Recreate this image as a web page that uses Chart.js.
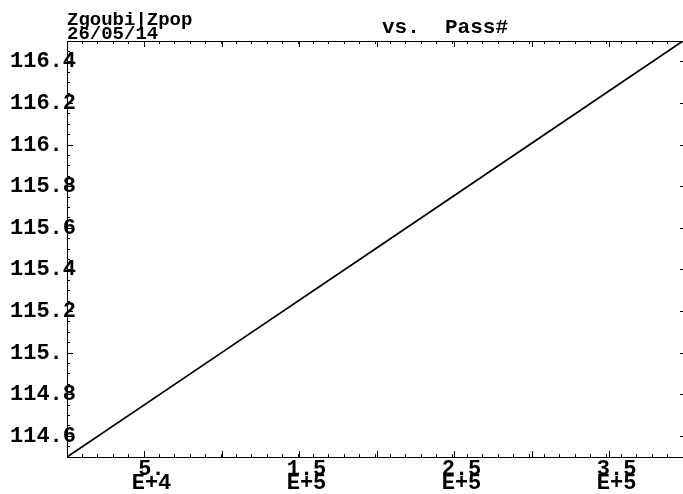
<!DOCTYPE html>
<html>
<head>
<meta charset="utf-8">
<script src="https://cdn.jsdelivr.net/npm/chart.js@4/dist/chart.umd.min.js"></script>
<style>
  html, body { margin: 0; padding: 0; background: #fff; }
  #wrap { width: 683px; height: 494px; }
</style>
</head>
<body>
<div id="wrap"><canvas id="zpopChart"></canvas></div>
<script>
// Zpop vs. pass number
const passes = [1, 100000, 200000, 300000, 397400];
const zpop = [114.5, 115.003, 115.506, 116.01, 116.5];

// Axis ticks and their labels
const xMajorTicks = [50000, 100000, 150000, 200000, 250000, 300000, 350000];
const xLabelTicks = [50000, 150000, 250000, 350000];
const xTickLabels = [['5.', 'E+4'], ['1.5', 'E+5'], ['2.5', 'E+5'], ['3.5', 'E+5']];
const yMajorTicks = [114.6, 114.8, 115.0, 115.2, 115.4, 115.6, 115.8, 116.0, 116.2, 116.4];
const yTickLabels = ['114.6', '114.8', '115.', '115.2', '115.4', '115.6', '115.8', '116.', '116.2', '116.4'];

const MONO = "'Liberation Mono', 'DejaVu Sans Mono', monospace";
const Y_FONT = 22;

// Header lines drawn above the frame
const headerText = {
    id: 'headerText',
    afterDraw(chart) {
        const ctx = chart.ctx;
        ctx.save();
        ctx.fillStyle = '#000';
        ctx.textAlign = 'left';
        ctx.textBaseline = 'alphabetic';
        ctx.font = 'bold 19px ' + MONO;
        ctx.fillText('Zgoubi|Zpop', 67, 25);
        ctx.fillText('26/05/14', 67, 39);
        ctx.font = 'bold 21px ' + MONO;
        ctx.fillText('vs.  Pass#', 382, 33);
        ctx.restore();
    }
};

// Inward tick marks only, no grid on the plot area
function tickGrid(len) {
    return { drawOnChartArea: false, drawTicks: true, tickLength: -len, color: '#000', tickColor: '#000', tickWidth: 1 };
}
const border = { display: true, color: '#000', width: 1 };

const xMin = Math.min(...passes), xMax = Math.max(...passes);

const ctx = document.getElementById('zpopChart').getContext('2d');
new Chart(ctx, {
    type: 'line',
    data: {
        datasets: [{
            data: passes.map((p, i) => ({ x: p, y: zpop[i] })),
            borderColor: '#000',
            borderWidth: 1.8,
            pointRadius: 0,
            fill: false,
            tension: 0
        }]
    },
    options: {
        responsive: true,
        maintainAspectRatio: false,
        animation: false,
        layout: { padding: { top: 41, right: 0, left: 0, bottom: 0 } },
        plugins: { legend: { display: false }, tooltip: { enabled: false } },
        scales: {
            x: {
                type: 'linear', position: 'bottom', weight: 1,
                min: xMin, max: xMax,
                grid: tickGrid(6), border: border,
                afterBuildTicks: s => { s.ticks = xMajorTicks.map(v => ({ value: v })); },
                afterFit: s => { s.height = 37; },
                ticks: {
                    autoSkip: false, maxRotation: 0, padding: 12, labelOffset: 7, color: '#000',
                    font: { family: MONO, size: 22, weight: 'bold', lineHeight: 0.62 },
                    callback: v => {
                        const i = xLabelTicks.indexOf(v);
                        return i < 0 ? '' : xTickLabels[i];
                    }
                }
            },
            xMinor: {
                type: 'linear', position: 'bottom', weight: 0,
                min: xMin, max: xMax,
                grid: tickGrid(3), border: border,
                afterFit: s => { s.height = 0; },
                ticks: { display: false, stepSize: 10000 }
            },
            xTop: {
                type: 'linear', position: 'top', weight: 0,
                min: xMin, max: xMax,
                grid: tickGrid(6), border: border,
                afterBuildTicks: s => { s.ticks = xMajorTicks.map(v => ({ value: v })); },
                afterFit: s => { s.height = 0; },
                ticks: { display: false }
            },
            xTopMinor: {
                type: 'linear', position: 'top', weight: 0,
                min: xMin, max: xMax,
                grid: tickGrid(3), border: border,
                afterFit: s => { s.height = 0; },
                ticks: { display: false, stepSize: 10000 }
            },
            y: {
                type: 'linear', position: 'left', weight: 1,
                min: 114.5, max: 116.5,
                grid: tickGrid(6), border: border,
                afterBuildTicks: s => { s.ticks = yMajorTicks.map(v => ({ value: v })); },
                afterFit: s => { s.width = 67; },
                ticks: {
                    // mirrored so the labels may run over the frame; right edge lands at x = 76
                    mirror: true, crossAlign: 'far',
                    padding: 76 - 67 - Math.round(Y_FONT * 0.6 * 5),
                    autoSkip: false, color: '#000',
                    font: { family: MONO, size: Y_FONT, weight: 'bold' },
                    callback: (v, i) => yTickLabels[i].padEnd(5, ' ')
                }
            },
            yMinor: {
                type: 'linear', position: 'left', weight: 0,
                min: 114.5, max: 116.5,
                grid: tickGrid(3), border: border,
                afterFit: s => { s.width = 0; },
                ticks: { display: false, stepSize: 0.05 }
            },
            yRight: {
                type: 'linear', position: 'right', weight: 0,
                min: 114.5, max: 116.5,
                grid: tickGrid(3), border: { display: false },
                afterBuildTicks: s => { s.ticks = yMajorTicks.map(v => ({ value: v })); },
                afterFit: s => { s.width = 0; },
                ticks: { display: false }
            }
        }
    },
    plugins: [headerText]
});
</script>
</body>
</html>
